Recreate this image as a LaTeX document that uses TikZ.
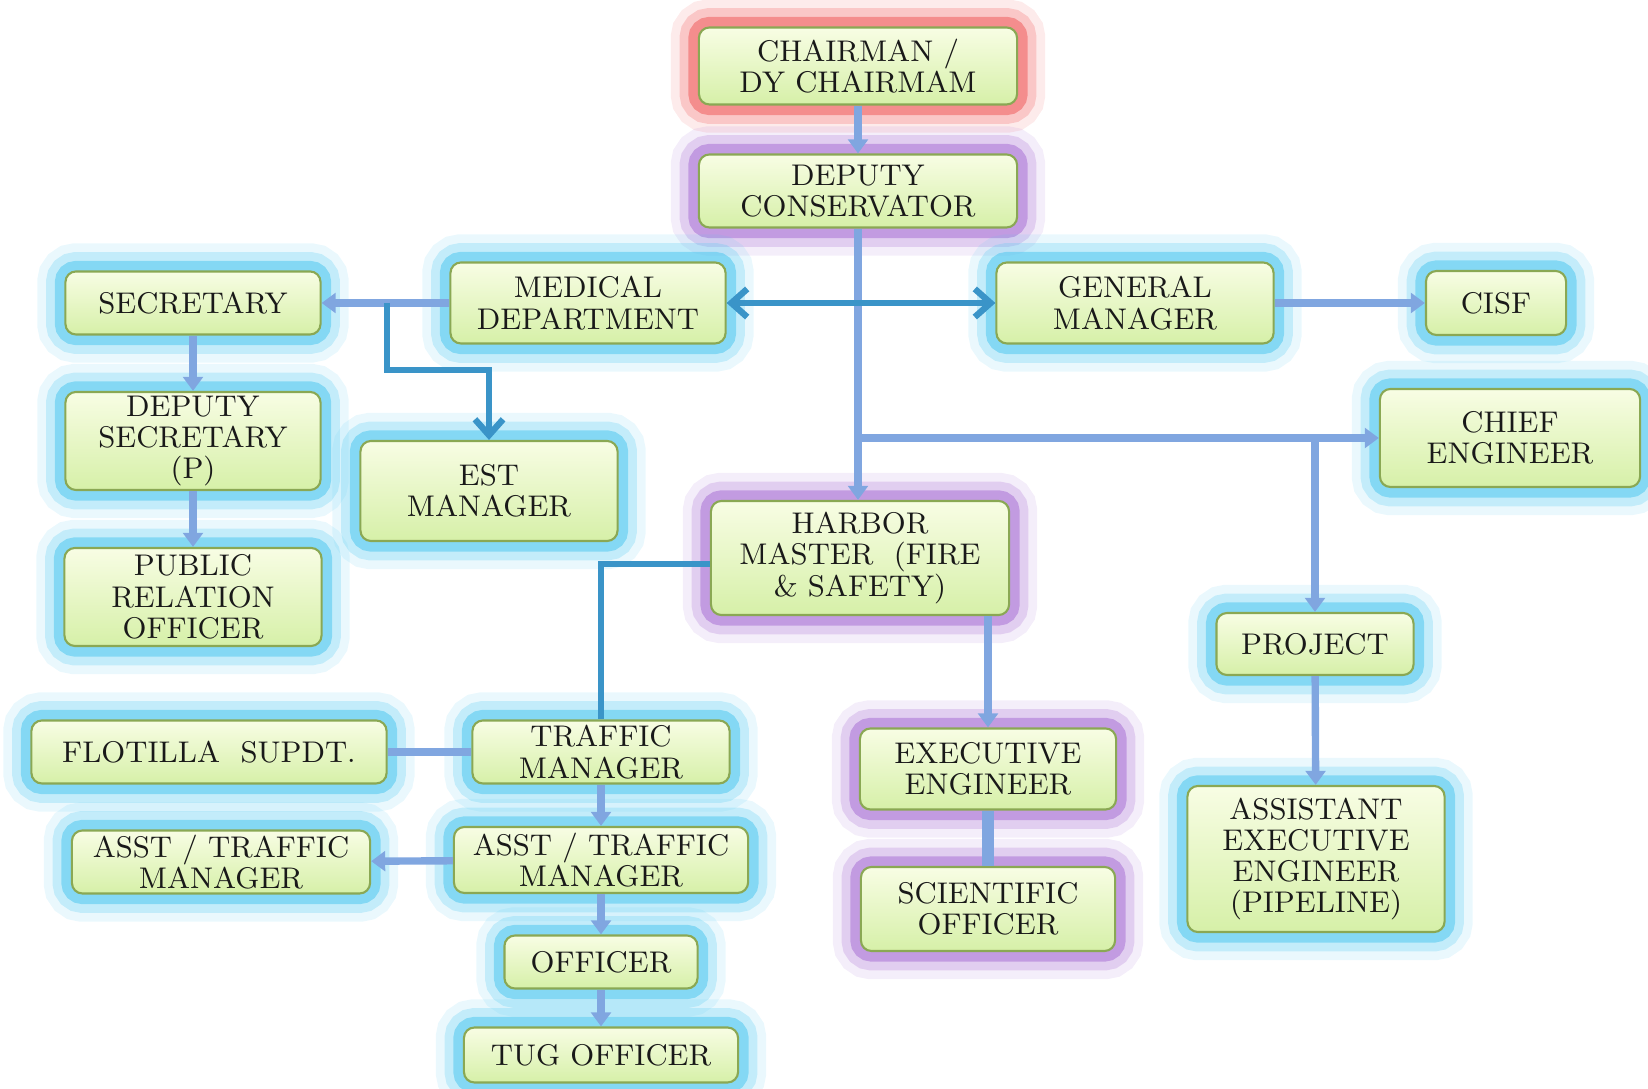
\documentclass[tikz,border=0pt]{standalone}
\usepackage{xcolor}
\usetikzlibrary{arrows.meta}
\definecolor{lnkblue}{RGB}{128,166,224}
\definecolor{lnkteal}{RGB}{58,148,200}
\definecolor{glowcyan}{RGB}{80,200,240}
\definecolor{glowpurple}{RGB}{168,112,212}
\definecolor{glowred}{RGB}{240,92,92}
\definecolor{boxtop}{RGB}{248,253,228}
\definecolor{boxbot}{RGB}{214,240,168}
\definecolor{boxedge}{RGB}{138,168,84}

\begin{document}
\begin{tikzpicture}[x=0.01cm, y=-0.01cm,
                card/.style={rounded corners=3pt, draw=boxedge, line width=0.6pt,
                    top color=boxtop, bottom color=boxbot, align=center, inner sep=1pt,
                    text=black!90, font=\fontsize{8.5}{8.9}\selectfont,
                    preaction={draw=#1, draw opacity=0.12, line width=16pt},
                    preaction={draw=#1, draw opacity=0.25, line width=11pt},
                    preaction={draw=#1, draw opacity=0.55, line width=6pt}},
                cbox/.style={card=glowcyan},
                pbox/.style={card=glowpurple},
                rbox/.style={card=glowred},
                wh/.style 2 args={minimum width=#1cm, minimum height=#2cm},
                lnk/.style={draw=lnkblue, line width=2.1pt, -{Triangle[length=4pt, width=5.6pt]}},
                lnkplain/.style={draw=lnkblue, line width=2.1pt},
                tl/.style={draw=lnkteal, line width=1.8pt, -{Straight Barb[length=4.5pt, width=8pt]}},
                tlplain/.style={draw=lnkteal, line width=1.8pt}]
                \useasboundingbox (0,0) rectangle (1648,1089);

                \node[rbox, wh={3.18}{0.77}] (chair) at (858,66) {CHAIRMAN /\\DY CHAIRMAM};
                \node[pbox, wh={3.18}{0.73}] (depcons) at (858,191) {DEPUTY\\CONSERVATOR};

                \node[cbox, wh={2.55}{0.63}] (sec) at (193,303) {SECRETARY};
                \node[cbox, wh={2.75}{0.81}] (med) at (588,303) {MEDICAL\\DEPARTMENT};
                \node[cbox, wh={2.77}{0.81}] (gm) at (1135,303) {GENERAL\\MANAGER};
                \node[cbox, wh={1.40}{0.64}] (cisf) at (1496,303) {CISF};
                \node[cbox, wh={2.55}{0.98}] (depsec) at (193,441) {DEPUTY\\SECRETARY\\(P)};
                \node[cbox, wh={2.57}{1.00}] (est) at (489,491) {EST\\MANAGER};
                \node[cbox, wh={2.57}{0.98}] (pro) at (193,597) {PUBLIC\\RELATION\\OFFICER};
                \node[cbox, wh={2.60}{0.98}] (chief) at (1510,438) {CHIEF\\ENGINEER};

                \node[pbox, wh={2.98}{1.14}] (harbor) at (860,558) {HARBOR\\MASTER\ \ (FIRE\\\& SAFETY)};
                \node[cbox, wh={1.97}{0.62}] (project) at (1315,644) {PROJECT};

                \node[cbox, wh={3.55}{0.63}] (flot) at (209,752) {FLOTILLA\ \ SUPDT.};
                \node[cbox, wh={2.57}{0.63}] (traffic) at (601,752) {TRAFFIC\\MANAGER};
                \node[pbox, wh={2.56}{0.81}] (exe) at (988,769) {EXECUTIVE\\ENGINEER};
                \node[cbox, wh={2.98}{0.63}] (asstl) at (221,862) {ASST / TRAFFIC\\MANAGER};
                \node[cbox, wh={2.94}{0.66}] (asstr) at (601,860) {ASST / TRAFFIC\\MANAGER};
                \node[pbox, wh={2.54}{0.84}] (sci) at (988,909) {SCIENTIFIC\\OFFICER};
                \node[cbox, wh={2.57}{1.46}] (aee) at (1316,859) {ASSISTANT\\EXECUTIVE\\ENGINEER\\(PIPELINE)};
                \node[cbox, wh={1.93}{0.53}] (officer) at (601,962) {OFFICER};
                \node[cbox, wh={2.74}{0.55}] (tug) at (601,1055) {TUG OFFICER};

                \coordinate (estfork) at (387,303);
                \coordinate (chieffork) at (depcons.south |- chief.west);

                \draw[lnk] (chair) -- (depcons);
                \draw[lnk] (depcons.south) -- (depcons.south |- harbor.north);
                \draw[lnk] (chieffork) -- (chief.west);
                \draw[lnk] (project.north |- chief.west) -- (project.north);
                \draw[lnk] (med.west) -- (sec.east);
                \draw[tl] (estfork) -- ++(0,67) -| (est.north);
                \draw[tl, {Straight Barb[length=4.5pt, width=8pt]}-{Straight Barb[length=4.5pt, width=8pt]}] (med.east) -- (gm.west);
                \draw[lnk] (gm) -- (cisf);
                \draw[lnk] (sec) -- (depsec);
                \draw[lnk] (depsec) -- (pro);
                \draw[tlplain] ([yshift=-0.06cm]harbor.west) -| (traffic.north);
                \draw[lnk] (harbor.south -| exe.north) -- (exe.north);
                \draw[lnkplain, line width=3.4pt] (exe) -- (sci);
                \draw[lnk] (project) -- (aee);
                \draw[lnkplain] (traffic) -- (flot);
                \draw[lnk] (traffic) -- (asstr);
                \draw[lnk] (asstr) -- (asstl);
                \draw[lnk] (asstr) -- (officer);
                \draw[lnk] (officer) -- (tug);
            \end{tikzpicture}
\end{document}
